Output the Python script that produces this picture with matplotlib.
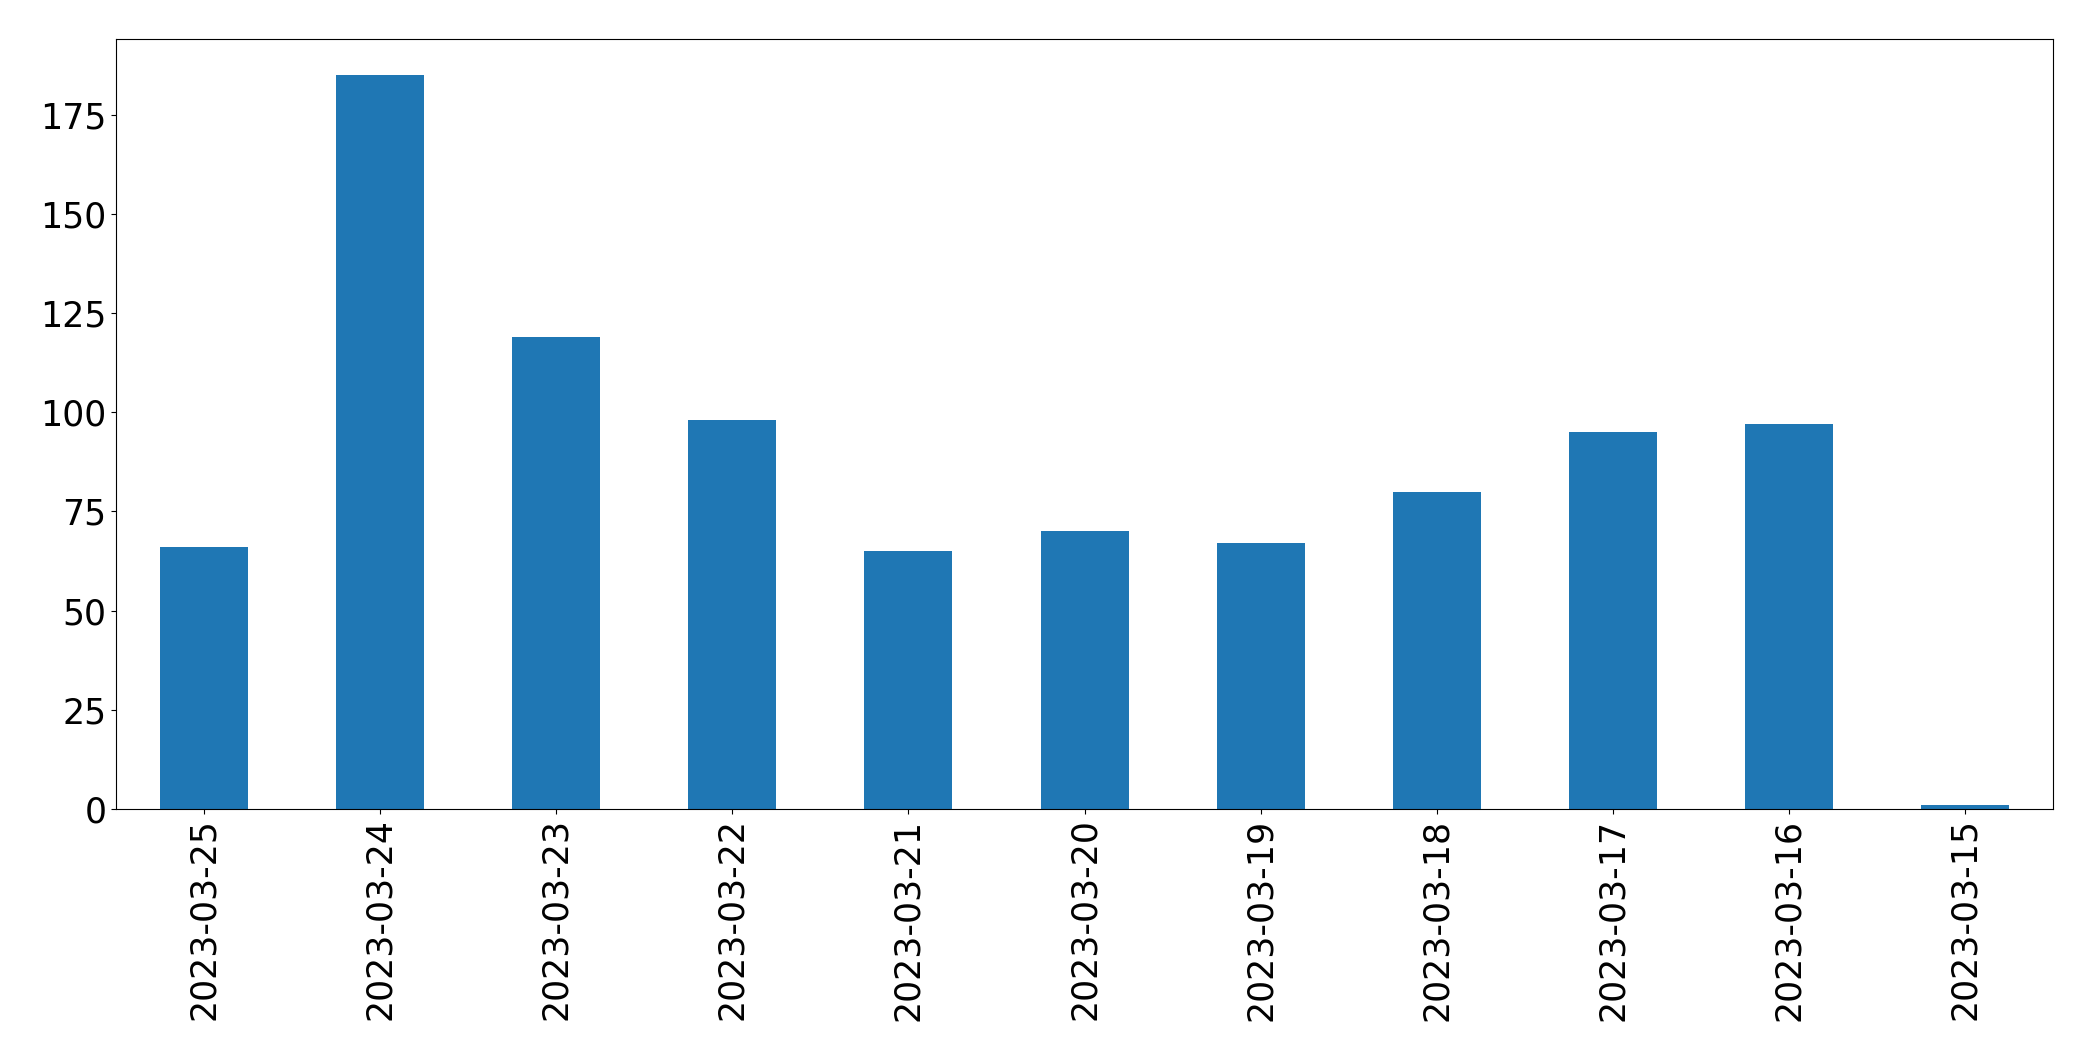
import matplotlib
matplotlib.use("Agg")
import matplotlib.pyplot as plt
import numpy as np

# data
dates = ["2023-03-25", "2023-03-24", "2023-03-23", "2023-03-22", "2023-03-21",
         "2023-03-20", "2023-03-19", "2023-03-18", "2023-03-17", "2023-03-16",
         "2023-03-15"]
counts = [66, 185, 119, 98, 65, 70, 67, 80, 95, 97, 1]

fig = plt.figure(figsize=(20.93, 10.61), dpi=100)
# axes box measured on the reference
ax = fig.add_axes([87 / 1568, 1 - 606 / 795, (1538 - 87) / 1568, (606 - 29) / 795])

x = np.arange(len(dates))
ax.bar(x, counts, width=0.5, color="#1f77b4")
ax.set_xlim(-0.5, len(dates) - 0.5)
ax.set_ylim(0, 185 * 1.05)
ax.set_xticks(x)
ax.set_xticklabels(dates, rotation=90)
ax.tick_params(axis="both", labelsize=25)

fig.savefig("out.png", dpi=100)
